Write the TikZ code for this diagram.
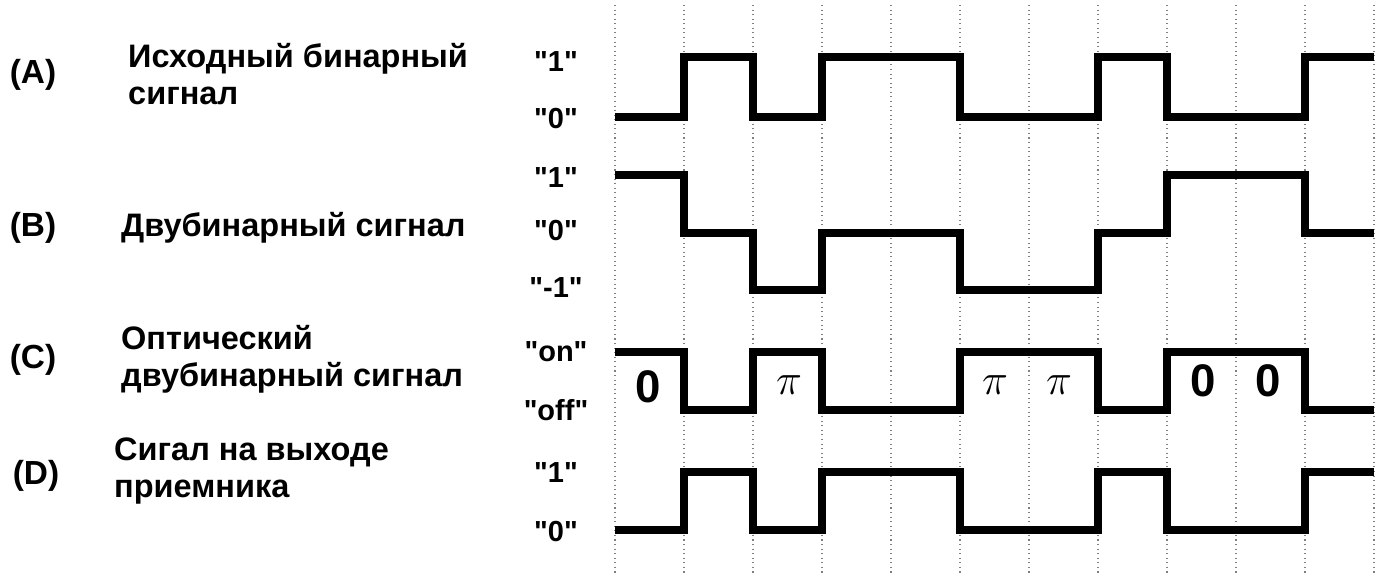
\documentclass[tikz,border=0pt]{standalone}
\usepackage{fontspec}
\setmainfont{Liberation Sans}
\newfontfamily\lvlfont{Liberation Sans}
\begin{document}
\begin{tikzpicture}[x=0.02cm,y=-0.02cm,
  sig/.style={line width=0.16cm,line join=miter},
  grid/.style={gray,dotted,line width=0.6pt},
  tag/.style={font=\bfseries\fontsize{19}{22}\selectfont},
  desc/.style={anchor=west,align=left,font=\bfseries\fontsize{18.5}{21}\selectfont},
  lvl/.style={font=\lvlfont\bfseries\fontsize{16.5}{18}\selectfont},
  ph/.style={font=\bfseries\fontsize{26}{28}\selectfont}]
\useasboundingbox (0,0) rectangle (1384,576);
% bit grid
\foreach \i in {0,...,11}
  \draw[grid] ({615+69*\i},5) -- ({615+69*\i},576);
% row labels
\node[tag] (tagA) at (33,75) {(A)};
\node[desc] (descA) at (122,74) {Исходный бинарный\\сигнал};
\node[tag] (tagB) at (33,228) {(B)};
\node[desc] (descB) at (115,228) {Двубинарный сигнал};
\node[tag] (tagC) at (33,360) {(C)};
\node[desc] (descC) at (115,359) {Оптический\\двубинарный сигнал};
\node[tag] (tagD) at (36,476) {(D)};
\node[desc] (descD) at (108,471) {Сигал на выходе\\приемника};
% level labels
\node[lvl] (a1) at (556,62) {"1"};
\node[lvl] (a0) at (556,119) {"0"};
\node[lvl] (b1) at (556,178) {"1"};
\node[lvl] (b0) at (556,231) {"0"};
\node[lvl] (bm) at (556,288) {"-1"};
\node[lvl] (con) at (556,352) {"on"};
\node[lvl] (coff) at (556,410) {"off"};
\node[lvl] (d1) at (556,473) {"1"};
\node[lvl] (d0) at (556,532) {"0"};
% waveforms
\draw[sig] (615,117) \foreach \y [count=\i] in {117,57,117,57,57,117,117,57,117,117,57} { |- ({615+69*\i},\y) };
\draw[sig] (615,175) \foreach \y [count=\i] in {175,233,290,233,233,290,290,233,175,175,233} { |- ({615+69*\i},\y) };
\draw[sig] (615,352) \foreach \y [count=\i] in {352,410,352,410,410,352,352,410,352,352,410} { |- ({615+69*\i},\y) };
\draw[sig] (615,530) \foreach \y [count=\i] in {530,472,530,472,472,530,530,472,530,530,472} { |- ({615+69*\i},\y) };
% phase labels
\node[ph] (p1) at (648,387) {0};
\node[ph] (p2) at (789,385) {$\pi$};
\node[ph] (p3) at (995,385) {$\pi$};
\node[ph] (p4) at (1059,385) {$\pi$};
\node[ph] (p5) at (1203,381) {0};
\node[ph] (p6) at (1268,381) {0};
\end{tikzpicture}
\end{document}
